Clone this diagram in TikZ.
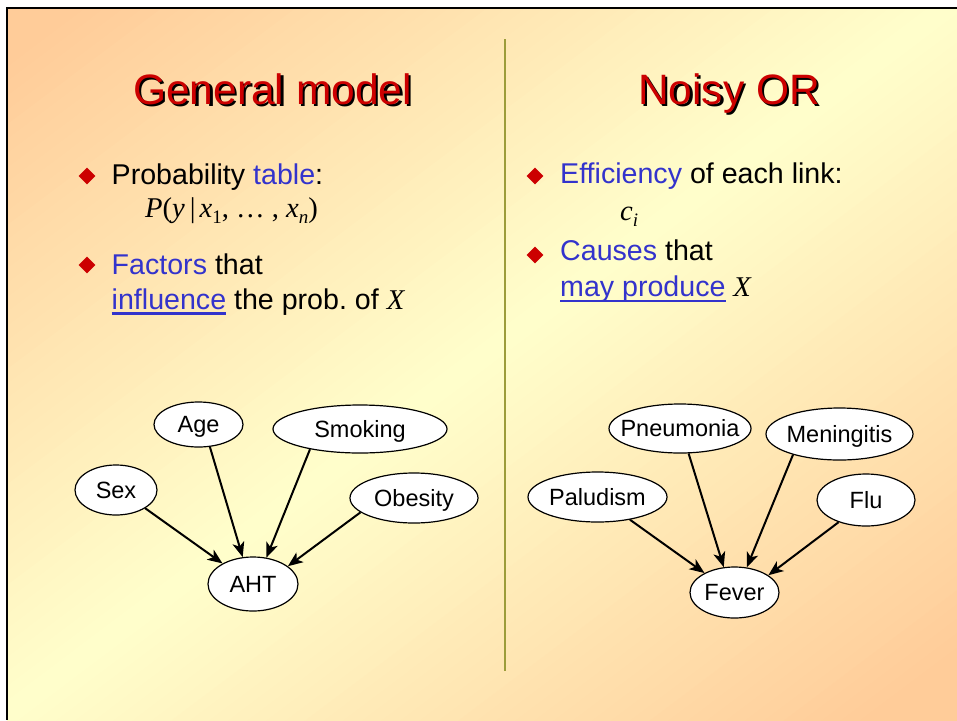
\documentclass[tikz,border=0pt]{standalone}
\usepackage{fontspec}
\setmainfont{Liberation Sans}
\newfontfamily\tnr{Liberation Serif}
\usetikzlibrary{shapes.geometric,arrows.meta}
\definecolor{peach}{HTML}{FFCC99}
\definecolor{lyel}{HTML}{FFFFCC}
\definecolor{titlered}{HTML}{CC0000}
\definecolor{linkblue}{HTML}{3333CC}
\definecolor{divider}{HTML}{9C9C3A}
\frenchspacing
\newcommand\mi[1]{{\tnr\itshape #1}}
\newcommand\mr[1]{{\tnr #1}}
\newcommand\msub[1]{\raisebox{-6pt}{\fontsize{19}{20}\selectfont #1}}
\newcommand\blueul[1]{\setbox0\hbox{#1}\rlap{\color{linkblue}\rule[-5.5pt]{\wd0}{2.5pt}}\box0\relax}
\newcommand\shadowed[1]{\rlap{\color{black}\hspace{2.5pt}\raisebox{-2.5pt}{#1}}#1}
\newcommand\ctr[1]{\raisebox{-0.36em}[0pt][0pt]{\makebox[0pt]{#1}}}
\newcommand\titlefont{\fontsize{42.5}{50}\selectfont}
\newcommand\bodyfont{\fontsize{28.6}{34}\selectfont}
\tikzset{
  bn/.style={ellipse, draw=black, line width=1.2pt, fill=white, inner sep=0pt,
    font=\fontsize{23.5}{28}\selectfont},
  link/.style={line width=2pt, -{Stealth[length=15pt,width=12pt,inset=4pt]}},
  bul/.style={diamond, fill=titlered, minimum width=17pt, minimum height=17pt, inner sep=0pt},
  txt/.style={anchor=base west, inner sep=0pt, font=\bodyfont},
  ttl/.style={anchor=base, inner sep=0pt, font=\titlefont, text=titlered},
}
\begin{document}
\begin{tikzpicture}[x=1pt,y=-1pt]
\useasboundingbox (0,0) rectangle (957,720);
\fill[white] (0,0) rectangle (957,720);
% background gradient
\begin{scope}
\clip (7,8) rectangle (957,720);
\foreach \i in {0,...,99} {
  \pgfmathsetmacro\ta{\i/50}
  \pgfmathsetmacro\tb{(\i+1)/50}
  \pgfmathsetmacro\f{min(100,abs((\i+0.5)/50-1)*110)}
  \fill[peach!\f!lyel] (-100,{720*(\ta+100/957)}) -- (1100,{720*(\ta-1100/957)})
     -- (1100,{720*(\tb-1100/957)+1}) -- (-100,{720*(\tb+100/957)+1}) -- cycle;
}
\end{scope}
% frame
\draw[line width=2.5pt] (7.2,720) -- (7.2,8.2) -- (957,8.2);
% divider
\draw[divider, line width=1.5pt] (505,39) -- (505,671);
% titles
\node[ttl] (t1) at (272.5,104) {\shadowed{General model}};
\node[ttl] (t2) at (729,104) {\shadowed{Noisy OR}};
% left bullets
\node[bul] (b1) at (87,176) {};
\node[txt] (l1) at (111.5,184.5) {Probability \textcolor{linkblue}{table}:};
\node[txt] (l2) at (145,217) {\mi{P}\mr{(}\mi{y}\hspace{5pt}\mr{|}\hspace{4pt}\mi{x}\msub{\mr{1}}\mr{, … , }\mi{x}\msub{\mi{n}}\mr{)}};
\node[bul] (b2) at (87,265) {};
\node[txt] (l3) at (111.5,274) {\textcolor{linkblue}{Factors} that};
\node[txt] (l4) at (111.5,309) {\blueul{\textcolor{linkblue}{influence}} the prob. of \mi{X}};
% right bullets
\node[bul] (b3) at (535,176) {};
\node[txt] (r1) at (560,183.5) {\textcolor{linkblue}{Efficiency} of each link:};
\node[txt] (r2) at (620,220) {\mi{c}\msub{\mi{i}}};
\node[bul] (b4) at (535,255) {};
\node[txt] (r3) at (560,260.5) {\textcolor{linkblue}{Causes} that};
\node[txt] (r4) at (560,296.5) {\blueul{\textcolor{linkblue}{may produce}} \mi{X}};
% left network
\node[bn, minimum width=89pt, minimum height=45pt] (age) at (198.5,424.5) {\ctr{Age}};
\node[bn, minimum width=174pt, minimum height=48pt] (smoking) at (360,429) {\ctr{Smoking}};
\node[bn, minimum width=82pt, minimum height=50pt] (sex) at (116,490) {\ctr{Sex}};
\node[bn, minimum width=128pt, minimum height=50pt] (obesity) at (414,498) {\ctr{Obesity}};
\node[bn, minimum width=90pt, minimum height=54pt] (aht) at (253,584) {\ctr{AHT}};
\draw[link] (sex.328) -- (aht.146);
\draw[link] (age.297) -- (aht.111);
\draw[link] (smoking.202) -- (aht.63);
\draw[link] (obesity.195) -- (aht.27);
% right network
\node[bn, minimum width=142pt, minimum height=49pt] (pneu) at (680,428.5) {\ctr{Pneumonia}};
\node[bn, minimum width=147pt, minimum height=52pt] (men) at (839.5,434) {\ctr{Meningitis}};
\node[bn, minimum width=139pt, minimum height=50pt] (palu) at (597.5,497) {\ctr{Paludism}};
\node[bn, minimum width=98pt, minimum height=52pt] (flu) at (866,500) {\ctr{Flu}};
\node[bn, minimum width=89pt, minimum height=51pt] (fever) at (734.5,592.5) {\ctr{Fever}};
\draw[link] (palu.325) -- (fever.147);
\draw[link] (pneu.289) -- (fever.113);
\draw[link] (men.204) -- (fever.64);
\draw[link] (flu.219) -- (fever.27.5);
\end{tikzpicture}
\end{document}
